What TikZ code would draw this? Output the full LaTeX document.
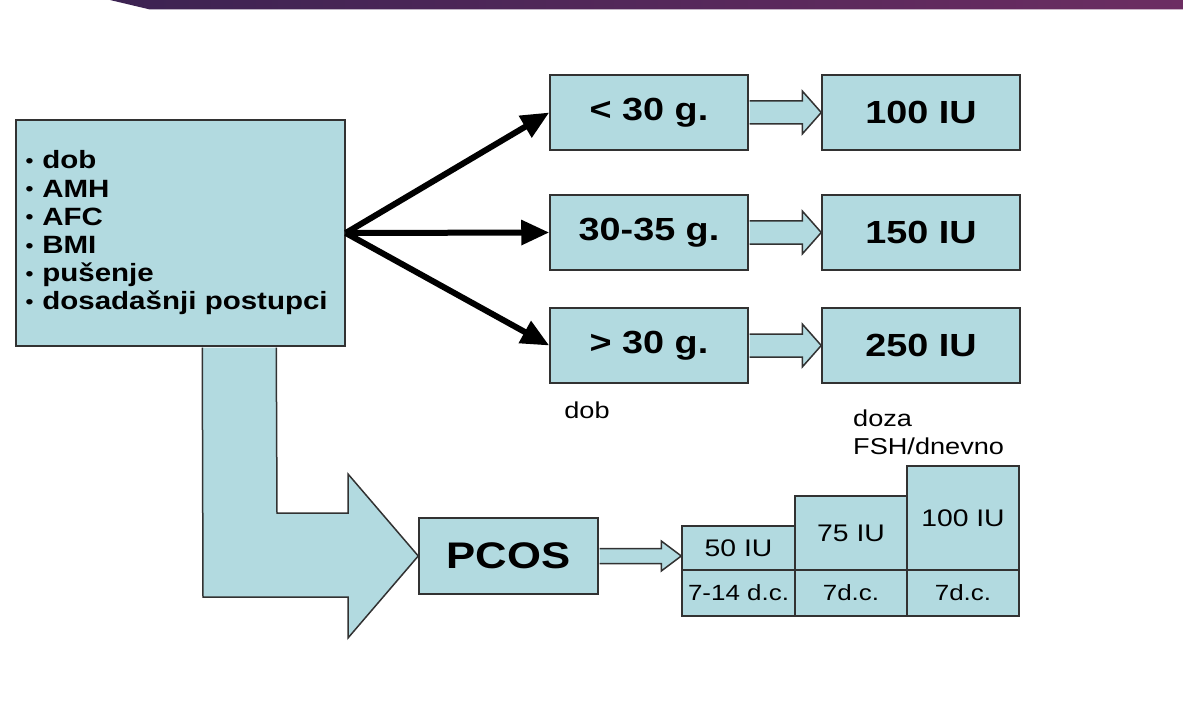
\documentclass[tikz,border=0pt]{standalone}
\usepackage{fontspec}
\setmainfont{Liberation Sans}[FakeStretch=1.18]
\usetikzlibrary{arrows.meta,calc}
\definecolor{boxfill}{RGB}{178,218,224}
\definecolor{boxline}{RGB}{50,50,50}
\definecolor{barL}{RGB}{60,35,82}
\definecolor{barR}{RGB}{108,45,98}
\newcommand{\bul}{\raisebox{1.5pt}{\fontsize{19}{19}\selectfont•}\hspace{9pt}}
\begin{document}
\begin{tikzpicture}[x=1pt,y=-1pt,
  box/.style={draw=boxline,line width=1.5pt,fill=boxfill,inner sep=0pt,anchor=center},
  agebox/.style={box,minimum width=198pt,minimum height=75pt,font=\fontsize{32}{36}\selectfont\bfseries},
  blk/.style={draw=boxline,line width=1.5pt,fill=boxfill,line join=miter},
  fan/.style={line width=6pt,-{Triangle[length=28pt,width=24pt]}},
  cellup/.style={box,font=\fontsize{24}{28}\selectfont},
  celllow/.style={box,minimum height=46pt,font=\fontsize{22}{26}\selectfont},
  lbl/.style={inner sep=0pt,font=\fontsize{23}{28}\selectfont}]
\useasboundingbox (0,0) rectangle (1183,722);
\fill[white] (0,0) rectangle (1183,722);
% top bar
\shade[left color=barL,right color=barR] (110,0) -- (1183,0) -- (1183,9.5) -- (150,9.5) -- cycle;
% left box
\node[box,minimum width=329pt,minimum height=226pt,text width=310pt,align=left,
  font=\fontsize{25}{28.2}\selectfont\bfseries] (factors) at (180.5,233)
  {\bul dob\\\bul AMH\\\bul AFC\\\bul BMI\\\bul pušenje\\\bul dosadašnji postupci};
% age boxes
\node[agebox] (a1) at (649,112.5) {< 30 g.};
\node[agebox] (a2) at (649,232.5) {30-35 g.};
\node[agebox] (a3) at (649,345.5) {> 30 g.};
% dose boxes
\node[agebox] (d1) at (921,112.5) {100 IU};
\node[agebox] (d2) at (921,232.5) {150 IU};
\node[agebox] (d3) at (921,345.5) {250 IU};
% PCOS
\node[box,minimum width=179pt,minimum height=76pt,font=\fontsize{37}{40}\selectfont\bfseries] (pcos) at (508.5,556) {PCOS};
% stair cells
\node[cellup,minimum width=113pt,minimum height=44pt] (s1u) at (738.5,548) {50 IU};
\node[cellup,minimum width=112pt,minimum height=74pt] (s2u) at (851,533) {75 IU};
\node[cellup,minimum width=112pt,minimum height=104pt] (s3u) at (963,518) {100 IU};
\node[celllow,minimum width=113pt] (s1l) at (738.5,593) {7-14 d.c.};
\node[celllow,minimum width=112pt] (s2l) at (851,593) {7d.c.};
\node[celllow,minimum width=112pt] (s3l) at (963,593) {7d.c.};
% labels
\node[lbl,anchor=center] (doblbl) at (587,410) {dob};
\node[lbl,anchor=west,align=left] (dozalbl) at (853,432) {doza\\FSH/dnevno};
% fan arrows
\draw[fan] (factors.east) -- (a1.west);
\draw[fan] (factors.east) -- (a2.west);
\draw[fan] (factors.east) -- (a3.west);
% block arrows age -> dose
\foreach \i in {1,2,3}{
  \draw[blk] ([xshift=0.8pt,yshift=11.5pt]a\i.east) -- ($(d\i.west)+(-19,-11.5)$)
    -- ($(d\i.west)+(-19,-21.5)$) -- (d\i.west) -- ($(d\i.west)+(-19,21.5)$)
    -- ($(d\i.west)+(-19,11.5)$) -- ([xshift=0.8pt,yshift=-11.5pt]a\i.east);
}
% bent arrow factors -> PCOS
\draw[blk] ([xshift=187pt,yshift=-0.8pt]factors.south west) -- (203,597) -- (348,597)
  -- (348,638) -- (pcos.west) -- (348,474) -- (348,513) -- (277,513)
  -- ([xshift=261pt,yshift=-0.8pt]factors.south west);
% small arrow PCOS -> stair
\coordinate (tip) at (s1u.west |- pcos.east);
\draw[blk] ([xshift=0.8pt,yshift=7.5pt]pcos.east) -- ($(tip)+(-20,-7.5)$)
  -- ($(tip)+(-20,-15)$) -- (tip) -- ($(tip)+(-20,15)$) -- ($(tip)+(-20,7.5)$)
  -- ([xshift=0.8pt,yshift=-7.5pt]pcos.east);
\end{tikzpicture}
\end{document}
